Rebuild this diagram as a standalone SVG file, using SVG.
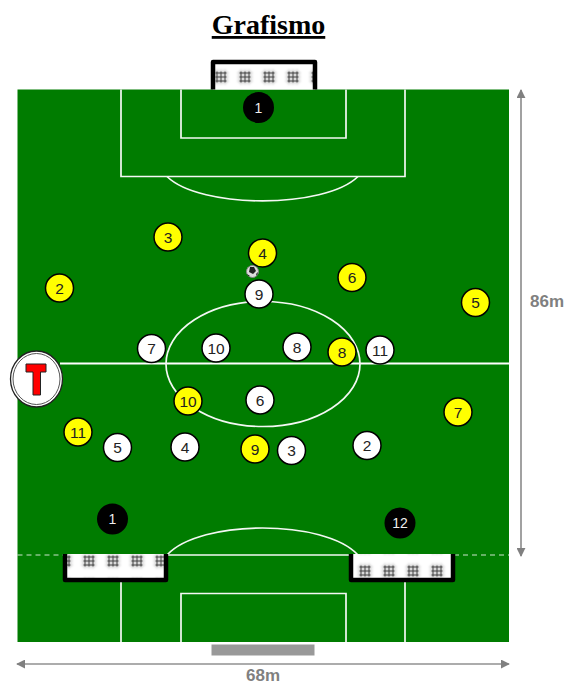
<svg xmlns="http://www.w3.org/2000/svg" width="568" height="685" viewBox="0 0 568 685">
<style>
.l{fill:none;stroke:#f4f8f4;stroke-width:1.7}
.h{fill:none;stroke:#fff;stroke-width:2.200}
.y circle{fill:#ff0;stroke:#000;stroke-width:1.500}
.w circle{fill:#fff;stroke:#000;stroke-width:1.500}
.k circle{fill:#000}
.y text,.w text{font:15.500px "Liberation Sans",Arial,sans-serif;fill:#222;text-anchor:middle}
.k text{font:14px "Liberation Sans",Arial,sans-serif;fill:#eee;text-anchor:middle}
.d{stroke:#919191;stroke-width:1.700;fill:none}
.t{font:bold 17px "Liberation Sans",Arial,sans-serif;fill:#808080;text-anchor:middle}
.s{stroke:#000;stroke-width:4.500;fill:none;stroke-linejoin:round}
</style>
<defs>
<filter id="b" x="-30%" y="-30%" width="160%" height="160%"><feGaussianBlur stdDeviation="1.200"/></filter>
<g id="cross">
<rect width="24" height="24" fill="#fff"/>
<path d="M8.500 3V18M12.500 3V18M16.500 3V18M5 6.500H20M5 10.500H20M5 14.500H20" stroke="#bbb" stroke-width="1.500" fill="none" filter="url(#b)"/>
<path d="M8.500 5V16M12.500 5V16M16.500 5V16M7 6.500H18M7 10.500H18M7 14.500H18" stroke="#444" stroke-width="1" fill="none"/>
</g>
<pattern id="net" x="208.500" y="66.500" width="24" height="24" patternUnits="userSpaceOnUse"><use href="#cross"/></pattern>
<pattern id="net2" x="76.500" y="550.500" width="24" height="24" patternUnits="userSpaceOnUse"><use href="#cross"/></pattern>
<pattern id="net3" x="352.500" y="560.500" width="24" height="24" patternUnits="userSpaceOnUse"><use href="#cross"/></pattern>
<marker id="a" viewBox="0 0 10 10" refX="9" refY="5" markerWidth="9" markerHeight="9" markerUnits="userSpaceOnUse" orient="auto-start-reverse"><path d="M0 0L10 5L0 10z" fill="#808080"/></marker>
</defs>

<text x="268.500" y="34" text-anchor="middle" style="font-family:'Liberation Serif',serif;font-weight:bold;font-size:28px;text-decoration:underline" fill="#000">Grafismo</text>

<g id="pitch">
<rect x="17.500" y="89.500" width="491.500" height="552.500" fill="#007c00"/>
<path class="l" d="M121 89.500V176.500H405V89.500M181 89.500V138H346V89.500"/>
<path class="l" d="M167 176.500C200 209 325 209 358 176.500"/>
<path class="h" d="M60 363.500H509"/>
<ellipse class="l" cx="263" cy="364" rx="97" ry="62.500"/>
<path class="l" d="M167 555C200 519 325 519 358 555"/>
<path class="l" d="M167 555H358"/>
<path d="M17.500 555H64M454 555H509" stroke="#fff" stroke-width="1" stroke-dasharray="5 4" opacity=".8" fill="none"/>
<path class="l" d="M121 582V642M405 582V642M181 642V593.500H346V642"/>
</g>

<g id="goal-top"><rect x="213" y="62" width="102" height="27.500" fill="url(#net)"/><path class="s" d="M213 89.500V62H315V89.500"/></g>
<g id="goal-left"><rect x="65" y="554" width="101" height="26" fill="url(#net2)"/><path class="s" d="M65 554V580H166V554"/></g>
<g id="goal-right"><rect x="351" y="554" width="102" height="26" fill="url(#net3)"/><path class="s" d="M351 554V580H453V554"/></g>

<g id="connectors">
<path class="d" d="M521 90V556" marker-start="url(#a)" marker-end="url(#a)"/>
<path class="d" d="M17 664H509" marker-start="url(#a)" marker-end="url(#a)"/>
</g>
<text class="t" x="547" y="307">86m</text>
<text class="t" x="263" y="681">68m</text>
<rect id="scale-bar" x="211.500" y="644.500" width="103" height="11" fill="#999"/>

<g id="logo">
<ellipse cx="36.500" cy="379" rx="26" ry="28" fill="#fff" stroke="#222" stroke-width="1.300"/>
<ellipse cx="36.500" cy="379" rx="23.500" ry="25.500" fill="#fff" stroke="#555" stroke-width="1"/>
<path d="M26 364H46V372H40.500V395H33V372H26z" fill="#f00" stroke="#222" stroke-width="1"/>
</g>

<g id="ball">
<circle cx="252.500" cy="271.500" r="6" fill="#ddd" stroke="#888" stroke-width="1"/>
<path d="M250 267L254 267L256 271L253 274L249 272zM256 274L258 272L257 276zM247 274L250 276L248 276z" fill="#222"/>
</g>

<g id="k1a" class="k"><circle cx="258.500" cy="107.500" r="15.500"/><text x="258.500" y="112.500">1</text></g>
<g id="k1b" class="k"><circle cx="112.500" cy="519" r="15.500"/><text x="112.500" y="524">1</text></g>
<g id="k12" class="k"><circle cx="400" cy="523" r="15.500"/><text x="400" y="528">12</text></g>

<g id="y3" class="y"><circle cx="168" cy="237" r="14"/><text x="168" y="242.500">3</text></g>
<g id="y4" class="y"><circle cx="262.500" cy="253" r="14"/><text x="262.500" y="258.500">4</text></g>
<g id="y6" class="y"><circle cx="352" cy="277.500" r="14"/><text x="352" y="283">6</text></g>
<g id="y2" class="y"><circle cx="59.500" cy="288" r="14"/><text x="59.500" y="293.500">2</text></g>
<g id="y5" class="y"><circle cx="475.500" cy="302.500" r="14"/><text x="475.500" y="308">5</text></g>
<g id="y8" class="y"><circle cx="342" cy="352" r="14"/><text x="342" y="357.500">8</text></g>
<g id="y10" class="y"><circle cx="188" cy="401" r="14"/><text x="188" y="406.500">10</text></g>
<g id="y7" class="y"><circle cx="458" cy="412" r="14"/><text x="458" y="417.500">7</text></g>
<g id="y11" class="y"><circle cx="78" cy="432" r="14"/><text x="78" y="437.500">11</text></g>
<g id="y9" class="y"><circle cx="255" cy="449" r="14"/><text x="255" y="454.500">9</text></g>

<g id="w9" class="w"><circle cx="259" cy="294" r="14"/><text x="259" y="299.500">9</text></g>
<g id="w7" class="w"><circle cx="151.500" cy="348.500" r="14"/><text x="151.500" y="354">7</text></g>
<g id="w10" class="w"><circle cx="216" cy="348" r="14"/><text x="216" y="353.500">10</text></g>
<g id="w8" class="w"><circle cx="297" cy="347" r="14"/><text x="297" y="352.500">8</text></g>
<g id="w11" class="w"><circle cx="380" cy="350" r="14"/><text x="380" y="355.500">11</text></g>
<g id="w6" class="w"><circle cx="260" cy="400" r="14"/><text x="260" y="405.500">6</text></g>
<g id="w5" class="w"><circle cx="117.500" cy="447.500" r="14"/><text x="117.500" y="453">5</text></g>
<g id="w4" class="w"><circle cx="185" cy="447" r="14"/><text x="185" y="452.500">4</text></g>
<g id="w3" class="w"><circle cx="291.500" cy="450.500" r="14"/><text x="291.500" y="456">3</text></g>
<g id="w2" class="w"><circle cx="367" cy="445.500" r="14"/><text x="367" y="451">2</text></g>
</svg>
